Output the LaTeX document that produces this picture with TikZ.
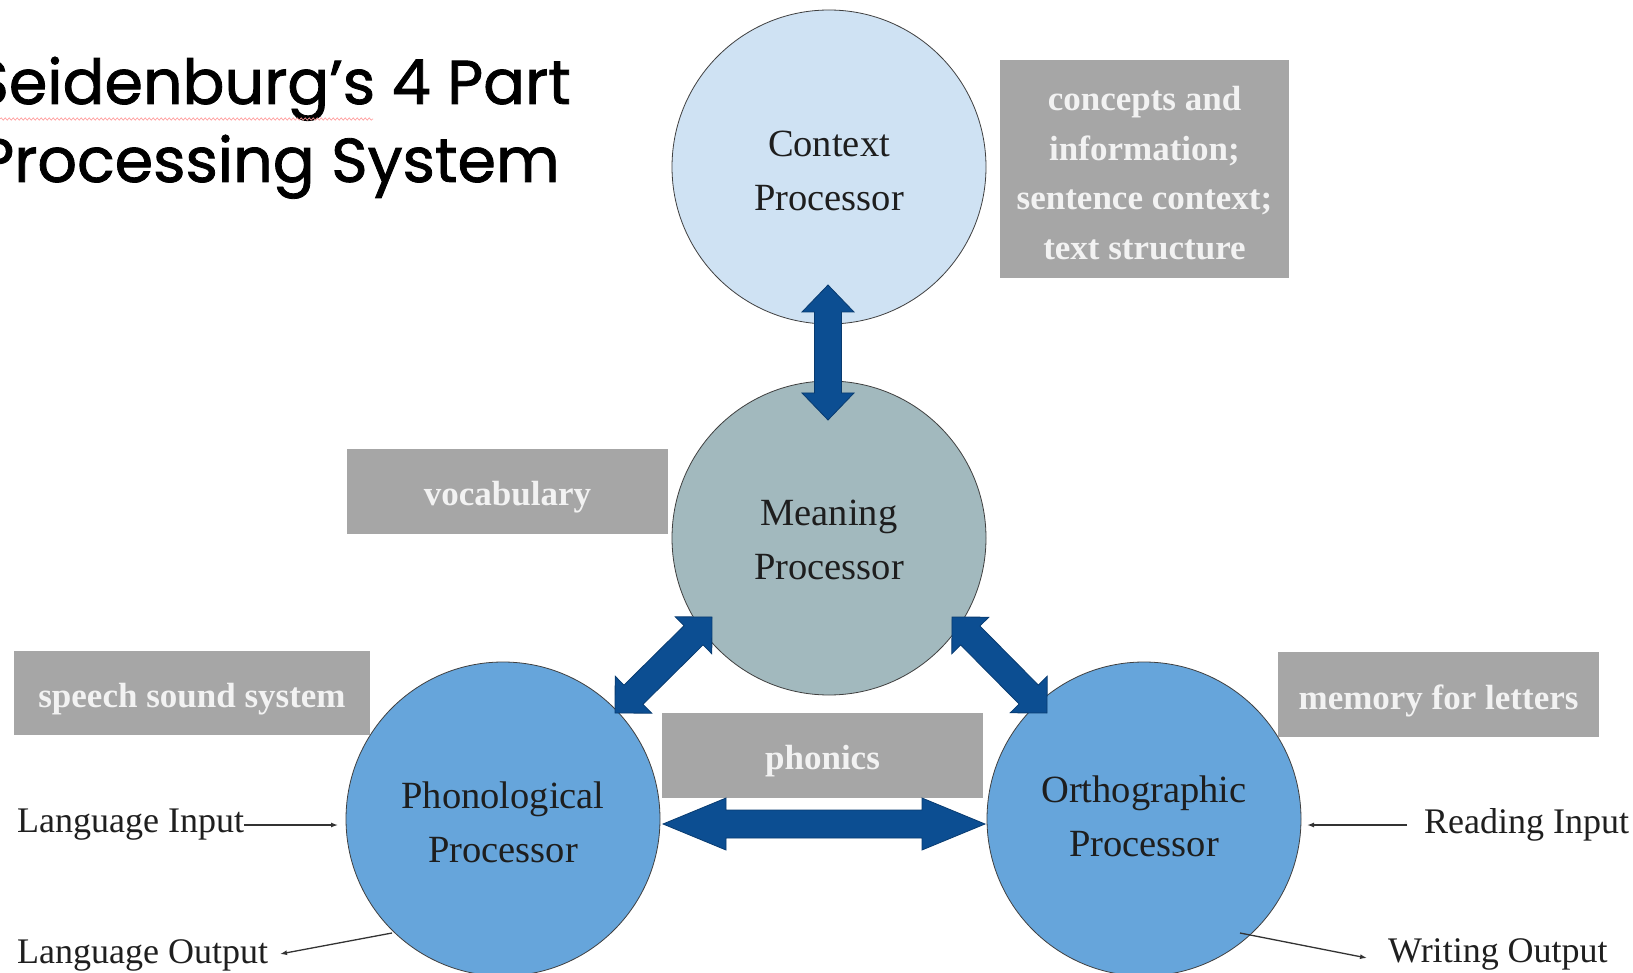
\documentclass[tikz,border=0pt]{standalone}
\usepackage{fontspec}
\setmainfont{Liberation Serif}
\newfontfamily\titlefont[FakeBold=1.3]{Poppins}
\usetikzlibrary{calc,arrows.meta,decorations.pathmorphing}
\definecolor{ctxfill}{HTML}{CFE2F3}
\definecolor{meanfill}{HTML}{A2B9BE}
\definecolor{procfill}{HTML}{66A5DB}
\definecolor{boxgray}{HTML}{A6A6A6}
\definecolor{arrowblue}{HTML}{0C4E92}
\definecolor{arrowdark}{HTML}{083B70}
\definecolor{textdark}{HTML}{1E1E1E}
\tikzset{
  proc/.style={circle, draw=black!75, line width=0.8pt, minimum size=314pt, inner sep=0pt},
  proctext/.style={align=center, text=textdark, inner sep=0pt, font=\fontsize{38.5}{54}\selectfont},
  graybox/.style={rectangle, fill=boxgray, inner sep=0pt},
  boxtext/.style={align=center, inner sep=0pt, text=white!95!black, yshift=-6pt,
    font=\bfseries\fontsize{35}{49.5}\selectfont},
  iolabel/.style={anchor=west, inner sep=0pt, text=black!88, font=\fontsize{36}{40}\selectfont},
  thinarrow/.style={draw=black!80, line width=1.3pt, -{Latex[length=7pt,width=5pt]}},
  bigarrow/.style={fill=arrowblue, draw=arrowdark, line width=0.8pt, line join=miter}
}
\newcommand\thickdbl[5]{%
  \filldraw[bigarrow] (#1)
   -- ($(#1)!#3!(#2)!#4!90:(#2)$) -- ($(#1)!#3!(#2)!#5!90:(#2)$)
   -- ($(#2)!#3!(#1)!#5!-90:(#1)$) -- ($(#2)!#3!(#1)!#4!-90:(#1)$)
   -- (#2)
   -- ($(#2)!#3!(#1)!#4!90:(#1)$) -- ($(#2)!#3!(#1)!#5!90:(#1)$)
   -- ($(#1)!#3!(#2)!#5!-90:(#2)$) -- ($(#1)!#3!(#2)!#4!-90:(#2)$)
   -- cycle;}
\begin{document}
\begin{tikzpicture}[x=1pt,y=-1pt]
\useasboundingbox (0,0) rectangle (1633,973);
\fill[white] (0,0) rectangle (1633,973);

% title
\node[anchor=base east, inner sep=0pt, font=\titlefont\fontsize{62}{70}\selectfont] (t1) at (571,104) {Seidenburg’s 4 Part};
\node[anchor=base east, inner sep=0pt, font=\titlefont\fontsize{62}{70}\selectfont] (t2) at (560,182) {Processing System};
\draw[red!40, line width=0.6pt, decorate, decoration={snake, amplitude=1.2pt, segment length=4pt}] (0,119) -- (373,119);

% circles
\node[proc, fill=ctxfill, label={[proctext, yshift=-4pt]center:Context\\Processor}] (ctx) at (829,167) {};
\node[proc, fill=meanfill, label={[proctext, yshift=-2pt]center:Meaning\\Processor}] (mean) at (829,538) {};
\node[proc, fill=procfill, label={[proctext, yshift=-3pt]center:Phonological\\Processor}] (phon) at (503,819) {};
\node[proc, fill=procfill, label={[proctext, yshift=3pt]center:Orthographic\\Processor}] (orth) at (1144,819) {};

% gray boxes
\node[graybox, minimum width=289pt, minimum height=218pt,
  label={[boxtext, yshift=2pt]center:concepts and\\information;\\sentence context;\\text structure}] (concepts) at (1144.5,169) {};
\node[graybox, minimum width=321pt, minimum height=85pt, label={[boxtext]center:vocabulary}] (vocab) at (507.5,491.5) {};
\node[graybox, minimum width=356pt, minimum height=84pt, label={[boxtext]center:speech sound system}] (speech) at (192,693) {};
\node[graybox, minimum width=321pt, minimum height=85pt, label={[boxtext]center:phonics}] (phonics) at (822.5,755.5) {};
\node[graybox, minimum width=321pt, minimum height=85pt, label={[boxtext]center:memory for letters}] (memory) at (1438.5,694.5) {};

% thick double arrows
\coordinate (ctxtip) at (828,285);
\coordinate (meantop) at (828,420);
\coordinate (meanl) at (712,617);
\coordinate (phontr) at (615,713);
\coordinate (meanr) at (952,617);
\coordinate (orthtl) at (1047,713);
\coordinate (phonr) at (663,824);
\coordinate (orthl) at (985,824);
\thickdbl{ctxtip}{meantop}{27pt}{26pt}{13.5pt}
\thickdbl{meanl}{phontr}{26pt}{26pt}{13.5pt}
\thickdbl{meanr}{orthtl}{26pt}{26pt}{13.5pt}
\thickdbl{phonr}{orthl}{63pt}{26pt}{14pt}

% input / output labels
\node[iolabel] (lin) at (17,825) {Language Input};
\node[iolabel] (lout) at (17,955) {Language Output};
\node[iolabel] (rin) at (1424,825) {Reading Input};
\node[iolabel] (wout) at (1388,954) {Writing Output};

\coordinate (linend) at (338,825);
\coordinate (loutstart) at (392,933);
\coordinate (loutend) at (280,954);
\coordinate (rinstart) at (1407,825);
\coordinate (rinend) at (1307,825);
\coordinate (woutstart) at (1240,933);
\coordinate (woutend) at (1367,958);

\draw[thinarrow] (lin.east |- linend) -- (linend);
\draw[thinarrow] (loutstart) -- (loutend);
\draw[thinarrow] (rinstart) -- (rinend);
\draw[thinarrow] (woutstart) -- (woutend);
\end{tikzpicture}
\end{document}
